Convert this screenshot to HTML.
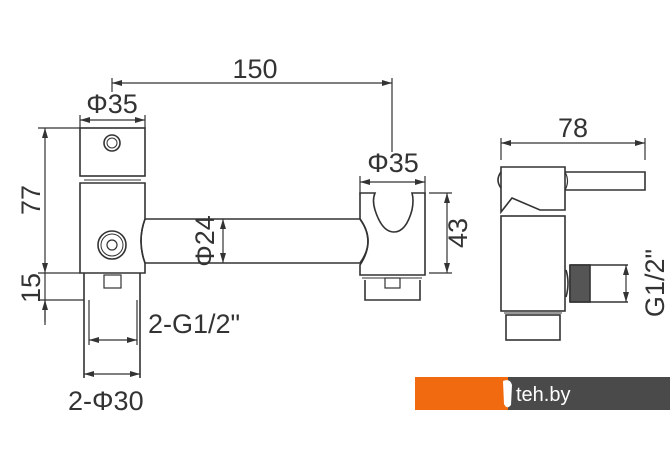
<!DOCTYPE html>
<html><head><meta charset="utf-8"><style>
html,body{margin:0;padding:0;background:#fff;}
svg{display:block;}
text{font-family:"Liberation Sans",Arial,sans-serif;fill:#333;}
</style></head><body>
<svg width="670" height="471" viewBox="0 0 670 471" xmlns="http://www.w3.org/2000/svg">
<defs>
<marker id="a" viewBox="0 0 10 6" refX="10" refY="3" markerWidth="10" markerHeight="6" orient="auto-start-reverse" markerUnits="userSpaceOnUse"><path d="M0,0L10,3L0,6z" fill="#333"/></marker>
</defs>
<g fill="none" stroke="#333" stroke-width="1.6">
<line x1="112" y1="83" x2="392" y2="83" marker-start="url(#a)" marker-end="url(#a)" stroke-width="1.2"/>
<line x1="112" y1="78" x2="112" y2="92" stroke-width="1.2"/>
<line x1="392" y1="78" x2="392" y2="152" stroke-width="1.2"/>
<line x1="80" y1="120" x2="145" y2="120" marker-start="url(#a)" marker-end="url(#a)" stroke-width="1.2"/>
<line x1="80" y1="115" x2="80" y2="128" stroke-width="1.2"/>
<line x1="145" y1="115" x2="145" y2="128" stroke-width="1.2"/>
<rect x="80" y="128" width="65" height="48"/>
<line x1="84" y1="180" x2="141" y2="180" stroke-width="1"/>
<path d="M80,183 H145 V219 Q137,241 145,263 V273 H80 Z"/>
<circle cx="112" cy="143" r="8"/><circle cx="112" cy="143" r="5" stroke-width="1"/>
<circle cx="112" cy="245" r="14"/><circle cx="112" cy="245" r="11" stroke-width="1"/><circle cx="112" cy="245" r="5" stroke-width="1.2"/>
<path d="M145,219 H360 Q376,241 360,263 H145 Q137,241 145,219"/>
<line x1="223" y1="219" x2="223" y2="263" marker-start="url(#a)" marker-end="url(#a)" stroke-width="1.2"/>
<path d="M84,273 V378 M140,273 V378"/>
<rect x="104" y="275" width="17" height="13" stroke-width="1.2"/>
<path d="M89,300 V345 M137,300 V345" stroke-width="1.2"/>
<line x1="89" y1="340" x2="137" y2="340" marker-start="url(#a)" marker-end="url(#a)" stroke-width="1.2"/>
<line x1="84" y1="374" x2="140" y2="374" marker-start="url(#a)" marker-end="url(#a)" stroke-width="1.2"/>
<line x1="38" y1="128" x2="80" y2="128" stroke-width="1.2"/>
<line x1="38" y1="273" x2="80" y2="273" stroke-width="1.2"/>
<line x1="38" y1="300" x2="84" y2="300" stroke-width="1.2"/>
<line x1="45" y1="128" x2="45" y2="273" marker-start="url(#a)" marker-end="url(#a)" stroke-width="1.2"/>
<line x1="45" y1="273" x2="45" y2="325" stroke-width="1.2"/>
<line x1="45" y1="300" x2="45" y2="322" marker-start="url(#a)" stroke-width="1.2"/>
<line x1="360" y1="182" x2="425" y2="182" marker-start="url(#a)" marker-end="url(#a)" stroke-width="1.2"/>
<line x1="360" y1="176" x2="360" y2="195" stroke-width="1.2"/>
<line x1="425" y1="176" x2="425" y2="195" stroke-width="1.2"/>
<path d="M360,193 H375 Q372,200 375,210 Q382,232 394,232 Q406,232 412,210 Q414,200 412,193 H425 V275 H360 V265 Q376,241 360,219 Z"/>
<line x1="362" y1="278" x2="422" y2="278" stroke-width="1"/>
<path d="M365,280 V300 H420 V280"/>
<rect x="385" y="278" width="15" height="10" stroke-width="1.2"/>
<line x1="429" y1="193" x2="452" y2="193" stroke-width="1.2"/>
<line x1="429" y1="273" x2="452" y2="273" stroke-width="1.2"/>
<line x1="447" y1="193" x2="447" y2="273" marker-start="url(#a)" marker-end="url(#a)" stroke-width="1.2"/>
<line x1="501" y1="143" x2="645" y2="143" marker-start="url(#a)" marker-end="url(#a)" stroke-width="1.2"/>
<line x1="501" y1="138" x2="501" y2="160" stroke-width="1.2"/>
<line x1="645" y1="138" x2="645" y2="160" stroke-width="1.2"/>
<path d="M501,167 H565 V210 H540 L512,198 L501,212 Z"/>
<path d="M501,172 Q495,180 501,188" />
<path d="M565,172 H645 V190 H565"/>
<path d="M565,172 Q570,181 565,190" stroke-width="1.2"/>
<rect x="501" y="216" width="64" height="95"/>
<path d="M570,265 H628 M570,302 H628 M570,265 V302 M566,270 Q570,283 566,297" />
<rect x="570" y="265" width="20" height="37" fill="#555" stroke="#333"/>
<line x1="626" y1="265" x2="626" y2="302" marker-start="url(#a)" marker-end="url(#a)" stroke-width="1.2"/>
<line x1="504" y1="313" x2="562" y2="313" stroke-width="1"/>
<rect x="506" y="315" width="54" height="25"/>
</g>
<g font-size="27">
<text x="255" y="78" text-anchor="middle">150</text>
<text x="112" y="113" text-anchor="middle">Φ35</text>
<text x="393" y="172" text-anchor="middle">Φ35</text>
<text x="573" y="137" text-anchor="middle">78</text>
<text transform="translate(40,200) rotate(-90)" text-anchor="middle">77</text>
<text transform="translate(40,288) rotate(-90)" text-anchor="middle">15</text>
<text transform="translate(214,241) rotate(-90)" text-anchor="middle">Φ24</text>
<text transform="translate(467,233) rotate(-90)" text-anchor="middle">43</text>
<text transform="translate(664,283) rotate(-90)" text-anchor="middle">G1/2"</text>
<text x="148" y="333">2-G1/2"</text>
<text x="68" y="410">2-Φ30</text>
</g>
<rect x="415" y="377" width="93" height="33" fill="#f26a10"/>
<rect x="508" y="377" width="162" height="33" fill="#4a4a4a"/>
<path d="M503,381 Q510,378 512,385 L511,405 Q507,410 504,404 Z" fill="#fff"/>
<text x="516" y="401" font-size="20" style="fill:#fff">teh.by</text>
</svg>
</body></html>
